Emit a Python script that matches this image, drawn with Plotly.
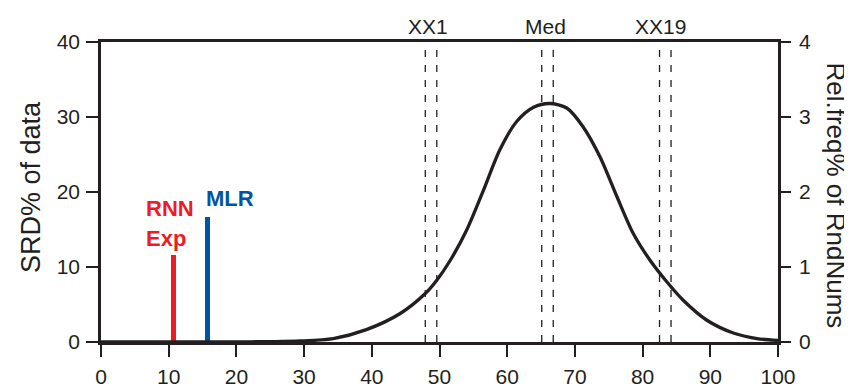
import plotly.graph_objects as go

# ---- data ----
curve_x = [0, 10, 20, 25, 29.4, 34.3, 39.2, 44.2, 47.9, 49.6, 51.6, 54.0, 56.5, 58.9, 61.4,
           63.9, 66.3, 68.8, 71.2, 73.7, 76.2, 78.6, 81.1, 83.6, 86.0, 89.5, 93.4,
           96.9, 100]
curve_relfreq = [0.0, 0.0, 0.002, 0.005, 0.013, 0.045, 0.165, 0.38, 0.646, 0.824, 1.09, 1.49,
                 2.025, 2.56, 2.94, 3.13, 3.18, 3.12, 2.87, 2.47, 1.94, 1.45,
                 1.09, 0.80, 0.557, 0.29, 0.12, 0.045, 0.02]

bar_names = ["RNN Exp", "MLR"]
bar_x = [10.7, 15.7]
bar_srd = [11.6, 16.7]
bar_colors = ["#ED1C24", "#0054A6"]

marker_names = ["XX1", "Med", "XX19"]
marker_lo = [47.9, 65.1, 82.5]
marker_hi = [49.6, 66.8, 84.2]
marker_label_x = [48.3, 65.6, 82.6]

x_ticks = [0, 10, 20, 30, 40, 50, 60, 70, 80, 90, 100]
y_ticks = [0, 10, 20, 30, 40]
y2_ticks = [0, 1, 2, 3, 4]

INK = "#231F20"
FONT = "Liberation Sans, Arial, sans-serif"

fig = go.Figure()

# dashed marker lines
for lo, hi in zip(marker_lo, marker_hi):
    for v in (lo, hi):
        fig.add_trace(go.Scatter(x=[v, v], y=[0, 40], mode="lines",
                                 line=dict(color=INK, width=1.3, dash="7px,8px"),
                                 showlegend=False, hoverinfo="skip"))

# bars
for name, bx, by, col in zip(bar_names, bar_x, bar_srd, bar_colors):
    fig.add_trace(go.Bar(x=[bx], y=[by], width=0.72, marker=dict(color=col, line=dict(width=0)),
                         name=name, showlegend=False))

# curve on right axis
fig.add_trace(go.Scatter(x=curve_x, y=curve_relfreq, yaxis="y2", mode="lines",
                         line=dict(color=INK, width=3.3, shape="spline", smoothing=0.8),
                         showlegend=False))

annotations = []
for name, lx in zip(marker_names, marker_label_x):
    annotations.append(dict(x=lx, y=1.053, xref="x", yref="paper", text=name, showarrow=False,
                            font=dict(family=FONT, size=21, color=INK),
                            xanchor="center", yanchor="middle"))

annotations += [
    dict(x=10.2, y=17.85, xref="x", yref="y", text="<b>RNN</b>", showarrow=False,
         font=dict(family=FONT, size=22, color=bar_colors[0]), xanchor="center", yanchor="middle"),
    dict(x=9.6, y=13.8, xref="x", yref="y", text="<b>Exp</b>", showarrow=False,
         font=dict(family=FONT, size=22, color=bar_colors[0]), xanchor="center", yanchor="middle"),
    dict(x=19.05, y=19.2, xref="x", yref="y", text="<b>MLR</b>", showarrow=False,
         font=dict(family=FONT, size=22, color=bar_colors[1]), xanchor="center", yanchor="middle"),
    dict(x=-0.104, y=0.515, xref="paper", yref="paper", text="SRD% of data", showarrow=False,
         textangle=-90, font=dict(family=FONT, size=27, color=INK), xanchor="center", yanchor="middle"),
    dict(x=1.085, y=0.49, xref="paper", yref="paper", text="Rel.freq% of RndNums", showarrow=False,
         textangle=90, font=dict(family=FONT, size=26, color=INK), xanchor="center", yanchor="middle"),
]

# the page puts the figure 8px in from the top-left corner, so the figure is 8px smaller
fig.update_layout(
    template="none",
    width=844, height=379,
    margin=dict(l=93, r=74, t=34, b=45, autoexpand=False),
    paper_bgcolor="white", plot_bgcolor="white",
    bargap=0,
    font=dict(family=FONT, color=INK),
    xaxis=dict(range=[0, 100], tickvals=x_ticks, ticks="outside", ticklen=12, tickwidth=2,
               tickcolor=INK, showline=True, linewidth=3, linecolor=INK, mirror=True,
               showgrid=False, zeroline=False, tickfont=dict(size=21, color=INK),
               ticklabelstandoff=2, layer="above traces", automargin=False),
    yaxis=dict(range=[0, 40], tickvals=y_ticks, ticks="outside", ticklen=12, tickwidth=2,
               tickcolor=INK, showline=True, linewidth=2.5, linecolor=INK,
               showgrid=False, zeroline=False, tickfont=dict(size=21, color=INK),
               ticklabelstandoff=2, automargin=False),
    yaxis2=dict(range=[0, 4], tickvals=y2_ticks, overlaying="y", side="right", ticks="outside",
                ticklen=10, tickwidth=2, tickcolor=INK, showline=True, linewidth=2.5,
                linecolor=INK, showgrid=False, zeroline=False,
                tickfont=dict(size=21, color=INK), ticklabelstandoff=4, automargin=False),
    annotations=annotations,
)

fig.write_html("out.html")
